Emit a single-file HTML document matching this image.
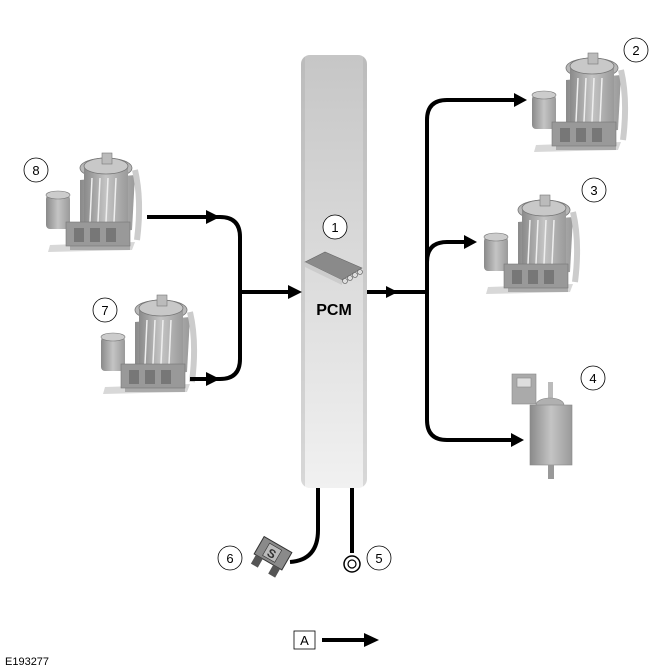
<!DOCTYPE html>
<html><head><meta charset="utf-8"><style>
html,body{margin:0;padding:0;background:#fff;}
svg{display:block;font-family:"Liberation Sans",sans-serif;}
</style></head><body>
<svg width="672" height="672" viewBox="0 0 672 672" xmlns="http://www.w3.org/2000/svg">
<defs>
<linearGradient id="bar" x1="0" y1="0" x2="0" y2="1">
<stop offset="0" stop-color="#c6c6c6"/><stop offset="1" stop-color="#f1f1f1"/></linearGradient>
<linearGradient id="metal" x1="0" y1="0" x2="1" y2="0">
<stop offset="0" stop-color="#8a8a8a"/><stop offset="0.5" stop-color="#c4c4c4"/><stop offset="1" stop-color="#9a9a9a"/></linearGradient>
<clipPath id="bc"><rect x="301" y="55" width="66" height="433" rx="9"/></clipPath>
<g id="pump">
<path d="M10 95 L95 92 L92 100 L8 102Z" fill="#d8d8d8"/>
<rect x="30" y="78" width="60" height="22" fill="#aaa"/>
<path d="M40 30 L95 25 L92 80 L40 85Z" fill="url(#metal)"/>
<ellipse cx="66" cy="18" rx="26" ry="10" fill="#b8b8b8" stroke="#777" stroke-width="0.8"/>
<rect x="44" y="16" width="44" height="60" fill="url(#metal)"/>
<ellipse cx="66" cy="16" rx="22" ry="8" fill="#c8c8c8" stroke="#777" stroke-width="0.8"/>
<rect x="62" y="3" width="10" height="11" fill="#bbb" stroke="#777" stroke-width="0.6"/>
<g stroke="#eee" stroke-width="1.5"><line x1="52" y1="28" x2="50" y2="72"/><line x1="60" y1="28" x2="58" y2="72"/><line x1="68" y1="28" x2="66" y2="72"/><line x1="76" y1="28" x2="74" y2="72"/></g>
<rect x="6" y="45" width="24" height="34" rx="4" fill="url(#metal)"/>
<ellipse cx="18" cy="45" rx="12" ry="4" fill="#ccc" stroke="#777" stroke-width="0.6"/>
<rect x="26" y="72" width="64" height="24" fill="#999" stroke="#777" stroke-width="0.6"/>
<g fill="#777"><rect x="34" y="78" width="10" height="14"/><rect x="50" y="78" width="10" height="14"/><rect x="66" y="78" width="10" height="14"/></g>
<path d="M95 20 Q102 50 97 90" stroke="#ccc" stroke-width="6" fill="none"/>
</g>
</defs>

<rect x="301" y="55" width="66" height="433" rx="9" fill="url(#bar)"/>
<g clip-path="url(#bc)" opacity="0.35">
<rect x="301" y="55" width="4" height="433" fill="#aaa"/>
<rect x="363" y="55" width="4" height="433" fill="#aaa"/>
</g>

<use href="#pump" transform="translate(40,150)"/>
<use href="#pump" transform="translate(95,292)"/>
<use href="#pump" transform="translate(526,50)"/>
<use href="#pump" transform="translate(478,192)"/>

<g>
<rect x="512" y="374" width="24" height="30" fill="#aaa" stroke="#888" stroke-width="0.6"/>
<rect x="517" y="378" width="14" height="9" fill="#ddd" stroke="#888" stroke-width="0.6"/>
<rect x="548" y="382" width="5" height="16" fill="#bbb"/>
<ellipse cx="550" cy="405" rx="14" ry="7" fill="#b0b0b0" stroke="#888" stroke-width="0.6"/>
<rect x="530" y="405" width="42" height="60" fill="url(#metal)" stroke="#888" stroke-width="0.6"/>
<rect x="548" y="465" width="6" height="14" fill="#999"/>
</g>

<g fill="none" stroke="#000" stroke-width="4">
<path d="M147 217 H220 Q240 217 240 237 V359 Q240 379 220 379 H190"/>
<path d="M240 292 H292"/>
<path d="M367 292 H427"/>
<path d="M427 292 V120 Q427 100 447 100 H518"/>
<path d="M427 292 V262 Q427 242 447 242 H468"/>
<path d="M427 292 V420 Q427 440 447 440 H515"/>
<path d="M318 488 V530 Q318 560 290 562"/>
<path d="M352 488 V553"/>
<path d="M322 640 H365"/>
</g>
<g fill="#000">
<path d="M206 210 L220 217 L206 224Z"/>
<path d="M206 372 L220 379 L206 386Z"/>
<path d="M288 285 L302 292 L288 299Z"/>
<path d="M386 286 L398 292 L386 298Z"/>
<path d="M514 93 L527 100 L514 107Z"/>
<path d="M464 235 L477 242 L464 249Z"/>
<path d="M511 433 L524 440 L511 447Z"/>
<path d="M364 633 L379 640 L364 647Z"/>
</g>

<circle cx="352" cy="564" r="8" fill="#fff" stroke="#000" stroke-width="1.5"/>
<circle cx="352" cy="564" r="4" fill="#fff" stroke="#000" stroke-width="1.2"/>

<g transform="translate(272,555) rotate(30)">
<rect x="-16" y="-12" width="32" height="20" fill="#8a8a8a" stroke="#333" stroke-width="1"/>
<rect x="-8" y="-9" width="14" height="14" fill="#bbb" stroke="#333" stroke-width="0.6"/>
<text x="-1" y="3" font-size="12" text-anchor="middle" fill="#333" font-weight="bold">S</text>
<rect x="-14" y="8" width="8" height="10" fill="#555"/>
<rect x="6" y="8" width="8" height="10" fill="#555"/>
</g>

<g>
<path d="M305 262 L325 252 L362 268 L342 280Z" fill="#8a8a8a" stroke="#666" stroke-width="0.6"/>
<path d="M305 262 L342 280 L342 285 L305 267Z" fill="#ccc"/>
<g fill="#ddd" stroke="#555" stroke-width="0.6"><circle cx="345" cy="281" r="2.5"/><circle cx="350" cy="278" r="2.5"/><circle cx="355" cy="275" r="2.5"/><circle cx="360" cy="272" r="2.5"/></g>
</g>
<text x="334" y="315" font-size="16" font-weight="bold" text-anchor="middle">PCM</text>

<g fill="#fff" stroke="#000" stroke-width="0.8">
<circle cx="335" cy="227" r="12"/><circle cx="636" cy="50" r="12"/><circle cx="594" cy="190" r="12"/>
<circle cx="593" cy="378" r="12"/><circle cx="36" cy="170" r="12"/><circle cx="105" cy="310" r="12"/>
<circle cx="230" cy="558" r="12"/><circle cx="379" cy="558" r="12"/>
</g>
<g font-size="13" text-anchor="middle" fill="#000">
<text x="335" y="232">1</text><text x="636" y="55">2</text><text x="594" y="195">3</text>
<text x="593" y="383">4</text><text x="36" y="175">8</text><text x="105" y="315">7</text>
<text x="230" y="563">6</text><text x="379" y="563">5</text>
</g>

<rect x="294" y="631" width="21" height="18" fill="#fff" stroke="#000" stroke-width="0.8"/>
<text x="304.5" y="645" font-size="13" text-anchor="middle">A</text>
<text x="5" y="665" font-size="11">E193277</text>
</svg>
</body></html>
